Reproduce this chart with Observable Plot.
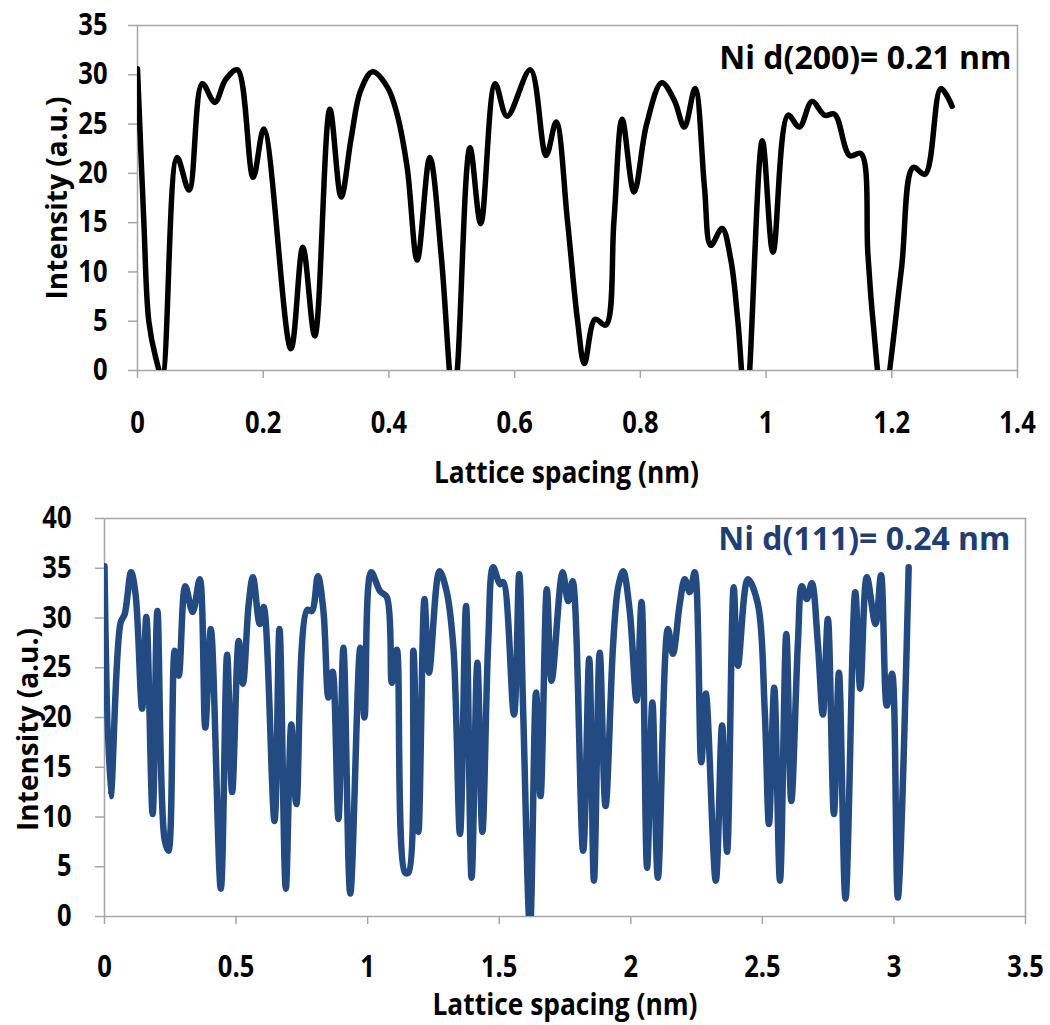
<!DOCTYPE html>
<html><head><meta charset="utf-8">
<script src="https://cdn.jsdelivr.net/npm/d3@7"></script>
<script src="https://cdn.jsdelivr.net/npm/@observablehq/plot@0.6"></script>
<style>
body{margin:0;background:#fff;}
#wrap{width:1050px;}
#wrap svg{display:block;}
</style></head><body><div id="wrap"></div>
<script>
const FONT = '"Open Sans","Liberation Sans",sans-serif';

// Top panel: Ni d(200)
const topTitle = "Ni d(200)= 0.21 nm";
const topXTicks = [0, 0.2, 0.4, 0.6, 0.8, 1, 1.2, 1.4];
const topYTicks = [0, 5, 10, 15, 20, 25, 30, 35];
const topX = [0, 0.010, 0.018, 0.029, 0.039, 0.063, 0.082, 0.103, 0.123, 0.140, 0.159, 0.184, 0.201, 0.244, 0.263, 0.282, 0.306, 0.324, 0.340, 0.355, 0.374, 0.398, 0.413, 0.429, 0.445, 0.465, 0.483, 0.496, 0.502, 0.509, 0.529, 0.546, 0.569, 0.588, 0.625, 0.650, 0.666, 0.684, 0.700, 0.711, 0.728, 0.745, 0.758, 0.771, 0.790, 0.810, 0.834, 0.854, 0.870, 0.887, 0.902, 0.912, 0.930, 0.944, 0.955, 0.968, 0.994, 1.011, 1.035, 1.053, 1.073, 1.093, 1.109, 1.133, 1.151, 1.162, 1.170, 1.186, 1.215, 1.234, 1.253, 1.278, 1.296];
const topY = [30.6, 15.2, 5.0, 1.3, -0.6, 21.6, 18.3, 29.1, 27.2, 29.5, 30.5, 19.6, 24.5, 2.2, 12.5, 3.5, 26.5, 17.6, 23.6, 28.4, 30.3, 28.7, 26.0, 20.6, 11.2, 21.6, 11.8, 0.2, -4, 0.2, 22.6, 14.9, 29.1, 25.8, 30.5, 21.8, 25.2, 15.2, 5.1, 0.7, 5.2, 4.6, 15.2, 25.5, 18.1, 25.0, 29.2, 27.4, 24.7, 28.6, 18.6, 12.7, 14.4, 11.2, 5.1, -4, 23.3, 12.0, 25.9, 24.7, 27.3, 25.9, 26.0, 21.8, 22.0, 11.8, 5.1, -3, 10.1, 20.6, 19.9, 28.6, 26.8];

// Bottom panel: Ni d(111)
const botTitle = "Ni d(111)= 0.24 nm";
const botXTicks = [0, 0.5, 1, 1.5, 2, 2.5, 3, 3.5];
const botYTicks = [0, 5, 10, 15, 20, 25, 30, 35, 40];
const botX = [0.000, 0.023, 0.061, 0.077, 0.101, 0.118, 0.143, 0.159, 0.183, 0.201, 0.228, 0.243, 0.267, 0.282, 0.307, 0.335, 0.362, 0.383, 0.404, 0.442, 0.466, 0.485, 0.510, 0.526, 0.548, 0.564, 0.590, 0.605, 0.646, 0.665, 0.689, 0.710, 0.729, 0.770, 0.788, 0.811, 0.832, 0.851, 0.867, 0.889, 0.908, 0.934, 0.972, 0.988, 1.013, 1.047, 1.073, 1.092, 1.111, 1.142, 1.155, 1.174, 1.193, 1.216, 1.233, 1.273, 1.300, 1.326, 1.351, 1.374, 1.395, 1.417, 1.436, 1.458, 1.477, 1.503, 1.515, 1.556, 1.576, 1.591, 1.617, 1.640, 1.657, 1.681, 1.699, 1.741, 1.762, 1.779, 1.819, 1.842, 1.860, 1.882, 1.904, 1.933, 1.952, 1.971, 1.996, 2.022, 2.041, 2.062, 2.082, 2.103, 2.141, 2.160, 2.186, 2.205, 2.224, 2.243, 2.268, 2.285, 2.323, 2.347, 2.366, 2.391, 2.407, 2.445, 2.483, 2.509, 2.525, 2.545, 2.567, 2.591, 2.610, 2.635, 2.650, 2.669, 2.688, 2.711, 2.730, 2.749, 2.772, 2.791, 2.816, 2.853, 2.872, 2.897, 2.930, 2.951, 2.973, 2.993, 3.015, 3.056];
const botY = [35.2, 12.1, 29.5, 30.4, 34.6, 32.4, 20.9, 30.1, 10.3, 30.7, 7.8, 6.6, 26.7, 24.2, 33.2, 30.6, 33.9, 19.0, 28.9, 2.8, 26.3, 12.5, 27.7, 23.4, 31.4, 34.1, 29.4, 31.1, 9.6, 28.9, 2.8, 19.3, 11.3, 30.8, 30.7, 34.2, 30.7, 22.0, 24.6, 9.8, 27.0, 2.3, 27.0, 20.0, 34.6, 32.7, 32.1, 23.5, 26.8, 4.4, 4.4, 26.7, 8.5, 31.9, 24.5, 34.7, 32.7, 27.0, 8.3, 31.2, 3.9, 25.5, 8.5, 27.4, 35.1, 33.4, 33.6, 20.3, 34.4, 20.7, -1.2, 22.5, 12.1, 32.9, 23.7, 34.6, 31.7, 33.7, 6.6, 25.9, 3.6, 26.5, 11.1, 27.4, 33.1, 34.7, 30.7, 21.7, 31.6, 4.9, 21.5, 3.9, 28.9, 26.4, 31.4, 33.9, 32.6, 34.6, 15.5, 22.4, 3.6, 19.2, 6.5, 33.1, 25.2, 33.9, 31.4, 20.7, 9.3, 23.0, 3.6, 28.4, 11.6, 27.4, 33.2, 31.9, 33.5, 27.4, 20.3, 29.9, 10.3, 24.5, 1.8, 32.6, 22.9, 34.1, 29.4, 34.3, 21.2, 24.4, 1.9, 35.1];

const xLabel = "Lattice spacing (nm)";
const yLabel = "Intensity (a.u.)";
const GRID = "#a6a6a6";

// narrow the glyphs (the reference uses a condensed face) without moving anchors
function squeeze(svg, k, skip) {
  svg.querySelectorAll("text").forEach(t => {
    if (skip.includes(t.textContent)) return;
    const L = t.getComputedTextLength();
    if (L > 0) {
      t.setAttribute("textLength", (L * k).toFixed(2));
      t.setAttribute("lengthAdjust", "spacingAndGlyphs");
    }
  });
}

function panel(o) {
  const data = o.xs.map((x, i) => ({x, y: o.ys[i]}));
  return Plot.plot({
    width: 1050, height: o.height,
    marginLeft: o.ml, marginRight: o.mr, marginTop: o.mt, marginBottom: o.mb,
    style: {fontFamily: FONT, fontSize: "30px", fontWeight: "bold", color: "black", background: "white"},
    x: {domain: o.xDomain},
    y: {domain: o.yDomain},
    marks: [
      Plot.frame({stroke: GRID, strokeWidth: 1.5}),
      Plot.axisX({ticks: o.xTicks, tickSize: 8, tickPadding: o.xPad, stroke: GRID, strokeWidth: 1.5, label: null, tickFormat: d => String(d)}),
      Plot.axisY({ticks: o.yTicks, tickSize: 9, tickPadding: o.yPad, stroke: GRID, strokeWidth: 1.5, label: null, tickFormat: d => String(d)}),
      Plot.line(data, {x: "x", y: "y", curve: "catmull-rom", stroke: o.color, strokeWidth: o.sw, clip: true, strokeLinejoin: "round", strokeLinecap: "round"}),
      Plot.text([o.title], {frameAnchor: "top-right", textAnchor: "end", lineAnchor: "top", dx: o.tdx, dy: o.tdy, fill: o.titleColor, fontSize: 32, fontWeight: "bold"}),
      Plot.text([xLabel], {frameAnchor: "bottom", textAnchor: "middle", lineAnchor: "middle", dx: o.xldx, dy: o.xldy, fontSize: 31, fontWeight: "bold", fill: "black"}),
      Plot.text([yLabel], {frameAnchor: "left", textAnchor: "middle", lineAnchor: "middle", rotate: -90, dx: o.yldx, dy: o.yldy, fontSize: 28, fontWeight: "bold", fill: "black"})
    ]
  });
}

const wrap = document.getElementById("wrap");
const svgTop = panel({
  height: 500, ml: 137, mr: 33, mt: 25, mb: 130,
  xDomain: [0, 1.4], yDomain: [0, 35], xTicks: topXTicks, yTicks: topYTicks,
  xPad: 33, yPad: 21, xs: topX, ys: topY, color: "#000000", sw: 5.5,
  title: topTitle, titleColor: "#000000", tdx: -6, tdy: 21,
  xldx: -11, xldy: 103, yldx: -79, yldy: 0
});
const svgBot = panel({
  height: 525, ml: 104, mr: 25, mt: 18, mb: 109,
  xDomain: [0, 3.5], yDomain: [0, 40], xTicks: botXTicks, yTicks: botYTicks,
  xPad: 31, yPad: 24, xs: botX, ys: botY, color: "#234b82", sw: 6.5,
  title: botTitle, titleColor: "#1f3f73", tdx: -15, tdy: 9,
  xldx: 0, xldy: 89, yldx: -75, yldy: 12
});
wrap.appendChild(svgTop);
wrap.appendChild(svgBot);
squeeze(svgTop, 0.85, [topTitle, yLabel]);
squeeze(svgBot, 0.85, [botTitle, yLabel]);
</script>
</body></html>
